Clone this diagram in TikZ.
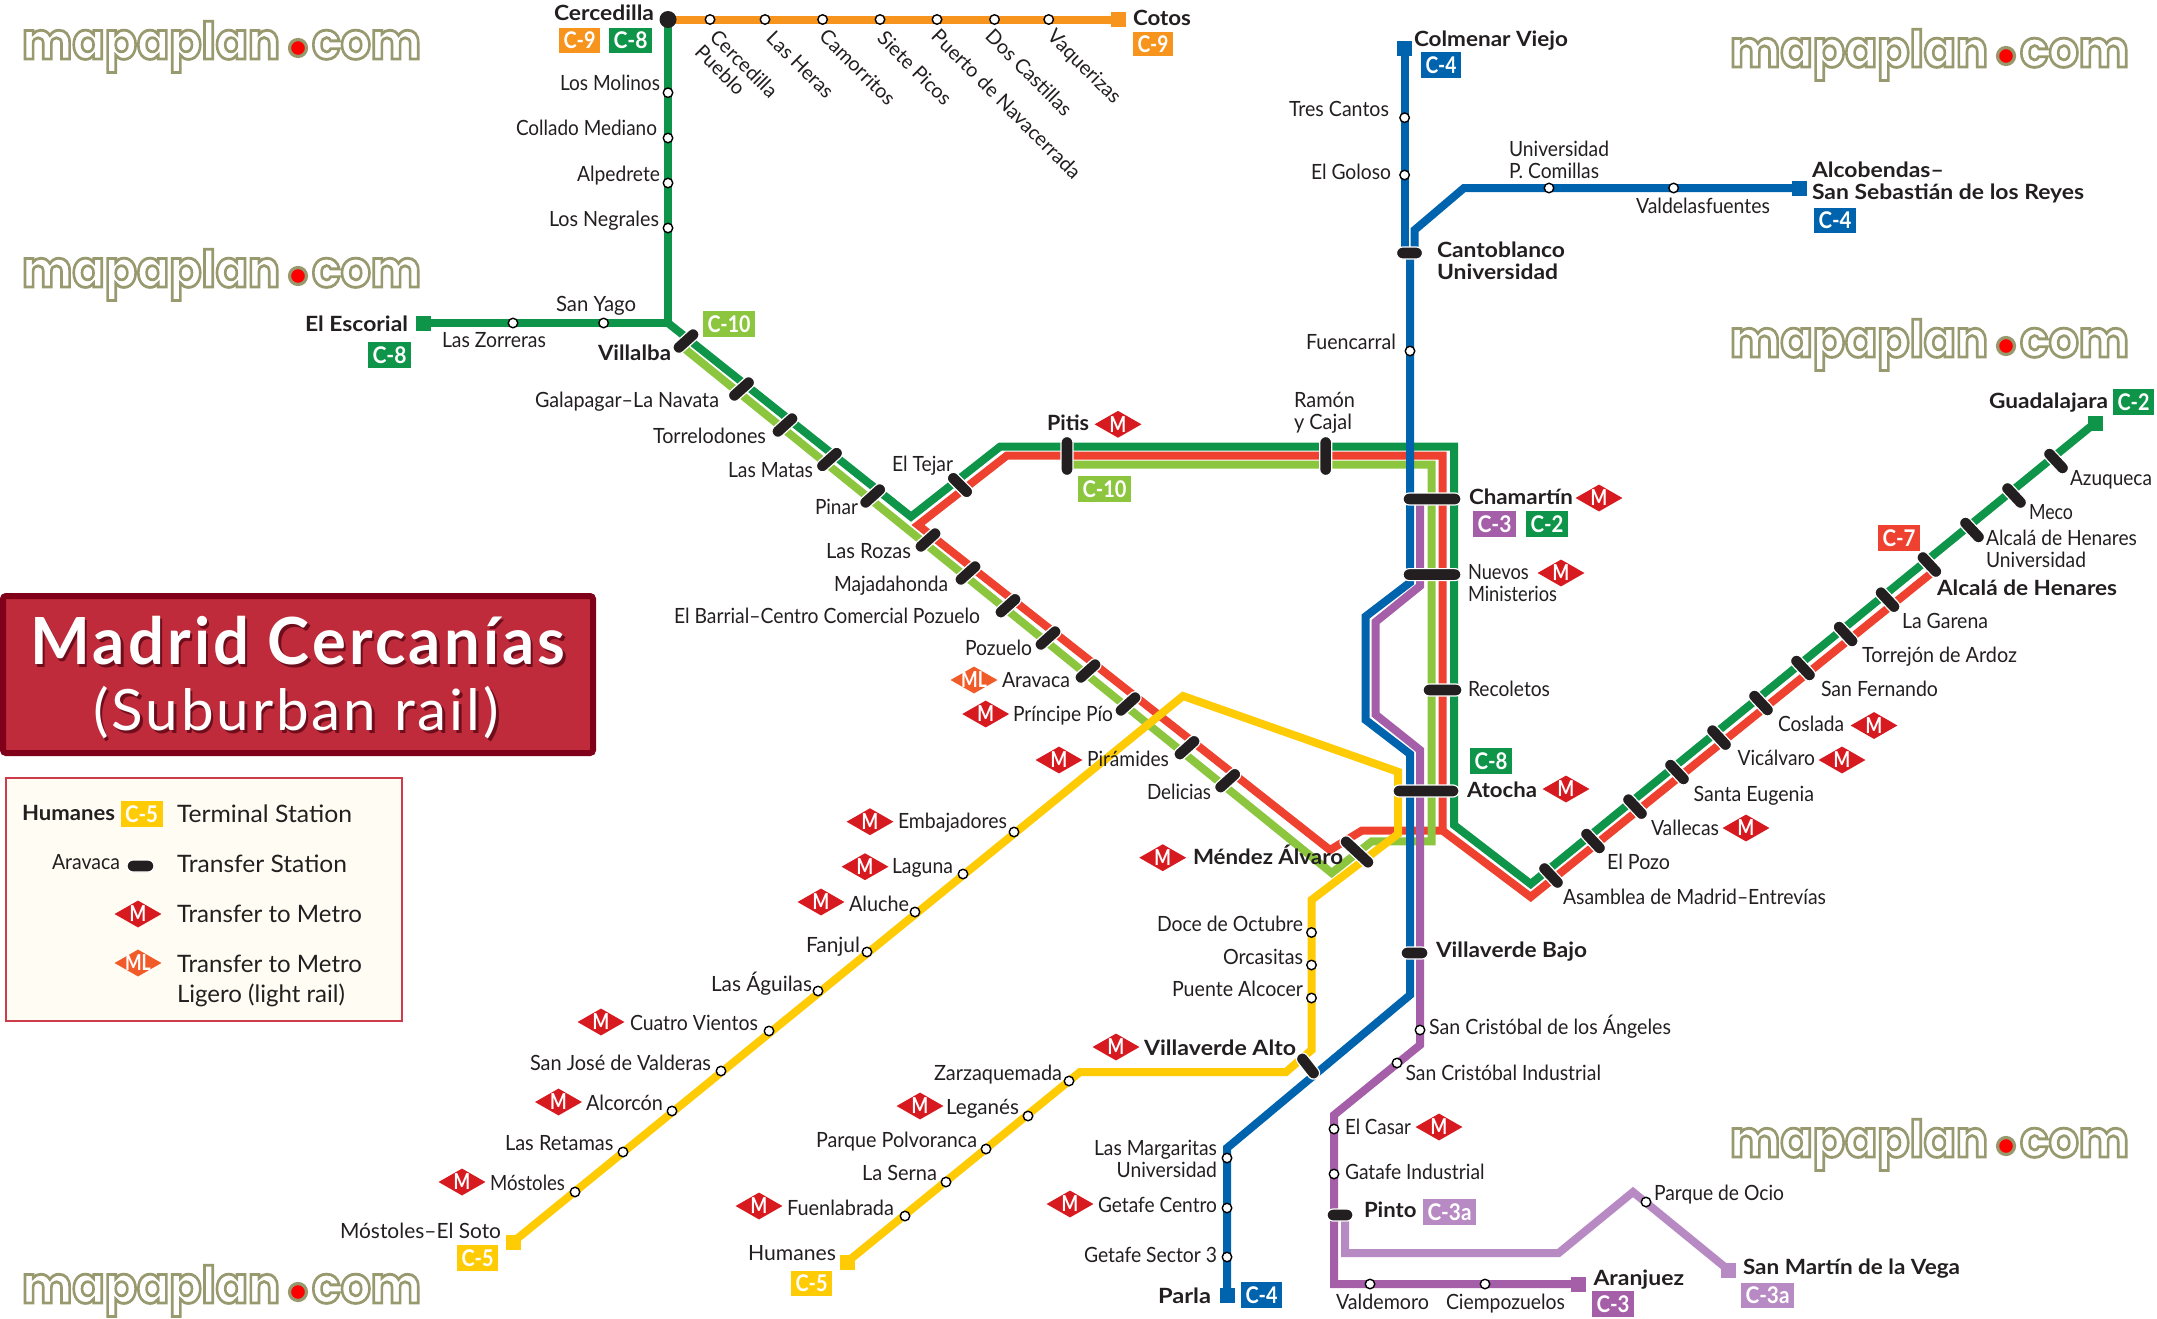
\documentclass[tikz,border=0pt]{standalone}
\usepackage{fontspec}
\usepackage{graphicx}
\usepackage{array}
\setmainfont{Lato}
\newfontfamily\titlefont[LetterSpace=5]{Lato}
\newfontfamily\logofont{Poppins}
\usetikzlibrary{shapes.geometric,shapes.misc}
\definecolor{cgreen}{HTML}{0E9549}
\definecolor{cred}{HTML}{EF4130}
\definecolor{clime}{HTML}{8CC63F}
\definecolor{cyell}{HTML}{FFCB05}
\definecolor{corange}{HTML}{F7941D}
\definecolor{cblue}{HTML}{0063AE}
\definecolor{cpurple}{HTML}{A55EA8}
\definecolor{clilac}{HTML}{B88AC4}
\definecolor{cblack}{HTML}{231F20}
\definecolor{cmetro}{HTML}{D71920}
\definecolor{cml}{HTML}{F15A29}
\definecolor{ctitle}{HTML}{BF2B3A}
\definecolor{ctitled}{HTML}{7F0018}
\definecolor{cshadow}{HTML}{6E0E1C}
\definecolor{clegbg}{HTML}{FFFDF3}
\definecolor{clegbd}{HTML}{CE3B4A}
\definecolor{colive}{HTML}{98996E}
\newsavebox\fitbox
\newcommand\fitw[2]{\sbox\fitbox{#2}\pgfmathsetmacro\fitr{#1/\wd\fitbox}\scalebox{\fitr}[1]{\usebox\fitbox}}
\newcommand\stackl[2]{\begin{tabular}{@{}l@{}}#1\\#2\end{tabular}}
\newcommand\stackr[2]{\begin{tabular}{@{}r@{}}#1\\#2\end{tabular}}
\newcommand\dmtext[1]{\makebox[0pt]{\raisebox{-0.36em}[0pt][0pt]{\scalebox{0.8}[1]{\bfseries #1}}}}
\newcommand\shad[1]{\makebox[0pt][l]{\kern2.5pt\raisebox{-2.5pt}{\color{cshadow}#1}}#1}
\newcommand\logoon{\special{pdf:code 2 Tr 2.8 w 0.596 0.6 0.431 RG}}
\newcommand\logooff{\special{pdf:code 0 Tr 1 w}}
\tikzset{
 lbl/.style={anchor=mid west,inner sep=0pt,outer sep=0pt,text=cblack,font=\fontsize{21}{21.5}\selectfont},
 rotlbl/.style={anchor=mid west,inner sep=0pt,outer sep=0pt,text=cblack,rotate=-45,font=\fontsize{20}{21}\selectfont},
 ln/.style={line width=8pt,line join=miter,miter limit=3},
 stnode/.style={circle,draw=black,fill=white,line width=1.4pt,minimum size=9.5pt,inner sep=0pt},
 termnode/.style={rectangle,minimum size=15pt,inner sep=0pt},
 barnode/.style={rounded rectangle,fill=cblack,draw=white,line width=1.2pt,minimum height=12pt,inner sep=0pt},
 metro/.style={diamond,fill=cmetro,aspect=1.74,minimum width=47pt,minimum height=27pt,inner sep=0pt,text=white,font=\fontsize{22}{22}\selectfont},
 mlight/.style={metro,fill=cml},
 badge/.style={rectangle,inner sep=0pt,text=white,font=\bfseries\fontsize{23}{23}\selectfont},
 logotext/.style={anchor=base west,inner sep=0pt,outer sep=0pt,font=\logofont\bfseries\fontsize{51}{51}\selectfont},
 logodot/.style={circle,fill=red,draw=colive,line width=3.2pt,minimum size=17pt,inner sep=0pt}
}
\newcommand\lab[5]{\pgfmathsetmacro\lw{#3-#2}\node[lbl] (#1) at (#2,#4+5) {\fitw{\lw}{#5}};}
\newcommand\blab[5]{\pgfmathsetmacro\lw{#3-#2}\node[lbl] (#1) at (#2,#4+5) {\fitw{\lw}{\bfseries #5}};}
\newcommand\stn[3]{\node[stnode] (#1) at (#2,#3) {};}
\newcommand\termn[4]{\node[termnode,fill=#2] (#1) at (#3,#4) {};}
\newcommand\trbar[5]{\node[barnode,minimum width=#4pt,rotate=#5] (#1) at (#2,#3) {};}
\newcommand\dmd[3]{\node[metro] (#1) at (#2,#3) {\dmtext{M}};}
\newcommand\dml[3]{\node[mlight] (#1) at (#2,#3) {\dmtext{ML}};}
\newcommand\bdg[7]{\pgfmathsetmacro\bw{#4-#3}\pgfmathsetmacro\bh{#6-#5}\pgfmathsetmacro\tw{#4-#3-9}\pgfmathsetmacro\bx{(#3+#4)/2}\pgfmathsetmacro\by{(#5+#6)/2}\node[badge,fill=#2,minimum width=\bw pt,minimum height=\bh pt] (#1) at (\bx,\by) {\fitw{\tw}{#7}};}
\newcommand\mplogo[3]{\node[logotext] (#1) at (#2,#3) {\color{white}\fitw{258}{\logoon mapaplan\logooff}\makebox[32pt]{.}\fitw{109}{\logoon com\logooff}};
 \node[logodot] (#1dot) at (#2+276,#3-11) {};}
\pgfdeclarelayer{lines}
\pgfsetlayers{lines,main}
\begin{document}
\begin{tikzpicture}[x=1pt,y=-1pt]
\useasboundingbox (0,0) rectangle (2157,1318);
% logos
\mplogo{logoa}{22}{59}
\mplogo{logob}{22}{287}
\mplogo{logoc}{1730}{67}
\mplogo{logod}{1730}{357}
\mplogo{logoe}{1730}{1157}
\mplogo{logof}{22}{1303}
% title
\node[rectangle,fill=ctitle,draw=ctitled,line width=6pt,rounded corners=3pt,minimum width=590pt,minimum height=157pt] (titlebox) at (298,674.5) {};
\node[inner sep=0pt,text=white] (titlea) at (298,642) {\fitw{535}{\titlefont\bfseries\fontsize{65}{65}\selectfont\shad{Madrid Cercanías}}};
\node[inner sep=0pt,text=white] (titleb) at (296,714) {\fitw{406}{\titlefont\fontsize{57}{57}\selectfont\shad{(Suburban rail)}}};
% legend
\node[rectangle,fill=clegbg,draw=clegbd,line width=2pt,minimum width=396pt,minimum height=243pt] (legend) at (203.5,899) {};
\blab{leghum}{22}{115}{813}{Humanes}
\bdg{legc}{cyell}{120.5}{162.5}{801}{827}{C-5}
\lab{legta}{177}{352}{815}{\fontsize{24}{24}\selectfont Terminal Station}
\lab{legar}{52}{120}{862}{Aravaca}
\trbar{legbar}{140.5}{866}{27}{0}
\lab{legtb}{177}{347}{865}{\fontsize{24}{24}\selectfont Transfer Station}
\dmd{legm}{138}{914}
\lab{legtc}{177}{362}{915}{\fontsize{24}{24}\selectfont Transfer to Metro}
\dml{legml}{138}{963}
\pgfmathsetmacro\lw{185}
\node[lbl] (legtd) at (177,985) {\fitw{\lw}{\fontsize{24}{30}\selectfont\stackl{Transfer to Metro}{Ligero (light rail)}}};
% terminals
\termn{escorial}{cgreen}{423}{323}
\node[circle,fill=cblack,minimum size=17pt,inner sep=0pt] (cerc) at (668,19.5) {};
\termn{cotos}{corange}{1118.5}{19.5}
\termn{colmenar}{cblue}{1404.6}{48}
\termn{alcob}{cblue}{1799}{188}
\termn{parla}{cblue}{1227}{1295}
\termn{aranjuez}{cpurple}{1578}{1284}
\termn{sanmartin}{clilac}{1728.5}{1270}
\termn{guadal}{cgreen}{2095}{423}
\termn{mostsoto}{cyell}{513}{1242}
\termn{humanes}{cyell}{847}{1262}
% plain stations
\stn{sa}{668}{92.7}\stn{sb}{668}{138}\stn{sc}{668}{183}\stn{sd}{668}{228}
\stn{se}{603.6}{323}\stn{sf}{513}{323}
\stn{oa}{710}{19.5}\stn{ob}{765}{19.5}\stn{oc}{822.6}{19.5}\stn{od}{880}{19.5}\stn{oe}{937}{19.5}\stn{of}{994.5}{19.5}\stn{og}{1048.7}{19.5}
\stn{ba}{1404.6}{117.7}\stn{bb}{1404.6}{175}\stn{bc}{1410}{351}\stn{bd}{1549}{188}\stn{be}{1673.6}{188}
\stn{bf}{1227}{1158}\stn{bg}{1227}{1208}\stn{bh}{1227}{1257}
\stn{ya}{1014}{832}\stn{yb}{963}{874}\stn{yc}{915}{912}\stn{yd}{867}{952}\stn{ye}{818}{991}\stn{yf}{769}{1031}\stn{yg}{721}{1071}\stn{yh}{672}{1111}\stn{yi}{623}{1152}\stn{yj}{575}{1192}
\stn{yk}{1069}{1081}\stn{yl}{1028}{1116}\stn{ym}{986}{1149}\stn{yn}{946}{1182}\stn{yo}{905}{1216}
\stn{yp}{1311.5}{932.5}\stn{yq}{1311.5}{965}\stn{yr}{1311.5}{998}
\stn{pa}{1420}{1030}\stn{pb}{1397}{1063}\stn{pc}{1334}{1129}\stn{pd}{1334}{1174}\stn{pe}{1370}{1284}\stn{pf}{1485}{1284}\stn{pg}{1646}{1202}
% transfer bars
\trbar{tvilla}{686}{341}{31}{42}
\trbar{tgala}{741.5}{389}{31}{42}
\trbar{ttorr}{785}{425}{31}{42}
\trbar{tmata}{829.5}{459.5}{31}{42}
\trbar{tpina}{872.7}{496}{31}{42}
\trbar{troz}{928}{540}{31}{42}
\trbar{tmaj}{968}{573}{31}{42}
\trbar{tbar}{1008}{605.7}{31}{42}
\trbar{tpoz}{1048}{638}{31}{42}
\trbar{tara}{1088}{671}{31}{42}
\trbar{tpri}{1128}{704}{31}{42}
\trbar{tpir}{1187}{747.7}{31}{42}
\trbar{tdel}{1227.7}{780.7}{31}{42}
\trbar{ttej}{960}{485}{31}{-45}
\trbar{tpit}{1067}{456}{39}{90}
\trbar{tram}{1325.7}{456}{39}{90}
\trbar{tcha}{1432}{499}{58}{0}
\trbar{tnue}{1432}{574.6}{58}{0}
\trbar{trec}{1442.5}{690}{39}{0}
\trbar{tato}{1426}{791}{66}{0}
\trbar{tvbj}{1414.5}{953}{27}{0}
\trbar{tcan}{1409.5}{253}{26}{0}
\trbar{tpin}{1340}{1215}{26}{0}
\trbar{tmen}{1357}{852}{42}{-43}
\trbar{tval}{1308}{1066}{30}{-52}
\trbar{ra}{1551}{875.5}{31}{-47}
\trbar{rb}{1593}{841}{31}{-47}
\trbar{rc}{1635}{806.6}{31}{-47}
\trbar{rd}{1677}{772}{31}{-47}
\trbar{re}{1719}{737.6}{31}{-47}
\trbar{rf}{1761}{703}{31}{-47}
\trbar{rg}{1803}{668}{31}{-47}
\trbar{rh}{1845.6}{634}{31}{-47}
\trbar{ri}{1887.5}{599.7}{31}{-47}
\trbar{rj}{1929.4}{564.5}{31}{-47}
\trbar{rk}{1972}{530}{31}{-47}
\trbar{rl}{2014}{495.5}{31}{-47}
\trbar{rm}{2056}{461}{31}{-47}
% bend points
\coordinate (gv) at (668,323);
\coordinate (g1) at (911,516.7);
\coordinate (g2) at (1000,446.7);
\coordinate (g3) at (1454,446.7);
\coordinate (g4) at (1454,825);
\coordinate (g5) at (1530.7,884);
\coordinate (r0) at (1931.5,573);
\coordinate (r1) at (1530.7,897);
\coordinate (r2) at (1442.7,830.7);
\coordinate (r3) at (1442.7,455.7);
\coordinate (r4) at (1006.7,455.7);
\coordinate (r5) at (918,525);
\coordinate (r6) at (1330,850);
\coordinate (r7) at (1361.7,830.7);
\coordinate (l0) at (685,349);
\coordinate (l1) at (1331.7,873);
\coordinate (l2) at (1371.7,841.4);
\coordinate (l3) at (1431.7,841.4);
\coordinate (l4) at (1431.7,464.7);
\coordinate (l5) at (1067,464.7);
\coordinate (y1) at (1183,696);
\coordinate (y2) at (1398,771.8);
\coordinate (y3) at (1398,834);
\coordinate (y4) at (1311.5,900);
\coordinate (y5) at (1311.5,1050);
\coordinate (y6) at (1286,1072);
\coordinate (y7) at (1080,1072);
\coordinate (b1) at (1404.6,250);
\coordinate (b2) at (1414.6,250);
\coordinate (b3) at (1414.6,230);
\coordinate (b4) at (1464,188);
\coordinate (b5) at (1410,253);
\coordinate (b6) at (1410,582.5);
\coordinate (b7) at (1365.7,616.4);
\coordinate (b8) at (1365.7,720);
\coordinate (b9) at (1410,754);
\coordinate (b10) at (1410,995);
\coordinate (b11) at (1227,1148);
\coordinate (p0) at (1420,499);
\coordinate (p1) at (1420,586);
\coordinate (p2) at (1375.7,621.8);
\coordinate (p3) at (1375.7,714.6);
\coordinate (p4) at (1420,750);
\coordinate (p5) at (1420,1045);
\coordinate (p6) at (1334,1115);
\coordinate (p7) at (1334,1284);
\coordinate (q0) at (1345,1215);
\coordinate (q1) at (1345,1253);
\coordinate (q2) at (1558.6,1253);
\coordinate (q3) at (1633,1192);
\begin{pgfonlayer}{lines}
\draw[ln,cred] (r0) -- (r1) -- (r2) -- (r3) -- (r4) -- (r5) -- (r6) -- (r7) -- (r2);
\draw[ln,clime] (l0) -- (l1) -- (l2) -- (l3) -- (l4) -- (l5);
\draw[ln,cgreen] (cerc.center) -- (gv) -- (escorial.center);
\draw[ln,cgreen] (gv) -- (g1) -- (g2) -- (g3) -- (g4) -- (g5) -- (guadal.center);
\draw[ln,corange] (cerc.center) -- (cotos.center);
\draw[ln,cyell] (mostsoto.center) -- (y1) -- (y2) -- (y3) -- (y4) -- (y5) -- (y6) -- (y7) -- (humanes.center);
\draw[ln,cblue] (colmenar.center) -- (b1);
\draw[ln,cblue] (b2) -- (b3) -- (b4) -- (alcob.center);
\draw[ln,cblue] (b5) -- (b6) -- (b7) -- (b8) -- (b9) -- (b10) -- (b11) -- (parla.center);
\draw[ln,cpurple] (p0) -- (p1) -- (p2) -- (p3) -- (p4) -- (p5) -- (p6) -- (p7) -- (aranjuez.center);
\draw[ln,clilac] (q0) -- (q1) -- (q2) -- (q3) -- (sanmartin.center);
\end{pgfonlayer}
% badges
\bdg{bc9}{corange}{559}{600}{28}{53}{C-9}
\bdg{bc8a}{cgreen}{609}{652}{28}{53}{C-8}
\bdg{bc9b}{corange}{1133}{1173}{32}{56}{C-9}
\bdg{bc8b}{cgreen}{368}{411}{342}{368}{C-8}
\bdg{bc10a}{clime}{703}{755}{311}{337}{C-10}
\bdg{bc10b}{clime}{1078}{1131}{476}{502}{C-10}
\bdg{bc4a}{cblue}{1421}{1461}{52}{78}{C-4}
\bdg{bc4b}{cblue}{1814}{1856}{208}{233}{C-4}
\bdg{bc4c}{cblue}{1241}{1282}{1282}{1308}{C-4}
\bdg{bc3a}{cpurple}{1473}{1516}{511}{537}{C-3}
\bdg{bc2a}{cgreen}{1526}{1568}{511}{537}{C-2}
\bdg{bc8c}{cgreen}{1470}{1512}{748}{774}{C-8}
\bdg{bc2b}{cgreen}{2113}{2154}{389}{415}{C-2}
\bdg{bc7}{cred}{1878}{1920}{525}{551}{C-7}
\bdg{bc5a}{cyell}{457}{498}{1245}{1271}{C-5}
\bdg{bc5b}{cyell}{791}{832}{1271}{1296}{C-5}
\bdg{bc3b}{cpurple}{1592}{1634}{1291}{1317}{C-3}
\bdg{bc3c}{clilac}{1423}{1476}{1199}{1225}{C-3a}
\bdg{bc3d}{clilac}{1741}{1794}{1283}{1308}{C-3a}
% metro diamonds
\dmd{mpit}{1118}{424.3}
\dmd{mcha}{1599}{498}
\dmd{mnue}{1561}{573}
\dmd{mato}{1566}{789}
\dmd{mcos}{1874}{725.5}
\dmd{mvic}{1842}{760}
\dmd{mval}{1746}{828}
\dml{mlara}{974}{680}
\dmd{mpri}{985.7}{714}
\dmd{mpir}{1059}{760}
\dmd{memb}{870}{821.7}
\dmd{mlag}{865}{866.7}
\dmd{mmen}{1162.7}{857.7}
\dmd{malu}{821}{902}
\dmd{mcua}{601}{1022}
\dmd{malc}{558.5}{1102}
\dmd{mmos}{462}{1182}
\dmd{mvlt}{1116}{1047}
\dmd{mleg}{920}{1106}
\dmd{mfue}{759}{1206}
\dmd{mget}{1070}{1204}
\dmd{mcas}{1439}{1127}
% labels
\blab{tcerc}{554}{654}{13}{Cercedilla}
\blab{tcot}{1133}{1191}{18}{Cotos}
\lab{lmol}{560}{660}{83}{Los Molinos}
\lab{lcol}{516}{657}{128}{Collado Mediano}
\lab{lalp}{577}{660}{174}{Alpedrete}
\lab{lneg}{549}{659}{219}{Los Negrales}
\lab{lyag}{556}{636}{304}{San Yago}
\lab{lzor}{442}{546}{340}{Las Zorreras}
\blab{lesc}{305}{408}{324}{El Escorial}
\blab{lvil}{598}{671}{353}{Villalba}
\node[rotlbl,anchor=north west] (lcp) at (719,28) {\stackl{Cercedilla}{Pueblo}};
\node[rotlbl] (lher) at (767,38) {Las Heras};
\node[rotlbl] (lcam) at (820,36) {Camorritos};
\node[rotlbl] (lsie) at (878,38) {Siete Picos};
\node[rotlbl] (lpue) at (932,36) {Puerto de Navacerrada};
\node[rotlbl] (ldos) at (986,36) {Dos Castillas};
\node[rotlbl] (lvaq) at (1048,36) {Vaquerizas};
\lab{lgal}{535}{719}{400}{Galapagar–La Navata}
\lab{ltor}{653}{766}{436}{Torrelodones}
\lab{lmat}{728}{813}{470}{Las Matas}
\lab{lpin}{815}{858}{507}{Pinar}
\lab{ltej}{892}{953}{464}{El Tejar}
\lab{lroz}{826}{911}{551}{Las Rozas}
\lab{lmaj}{834}{948}{584}{Majadahonda}
\lab{lbar}{674}{980}{616}{El Barrial–Centro Comercial Pozuelo}
\lab{lpoz}{965}{1032}{648}{Pozuelo}
\lab{lara}{1002}{1070}{680}{Aravaca}
\lab{lpri}{1013}{1113}{714}{Príncipe Pío}
\lab{lpir}{1087}{1169}{759}{Pirámides}
\lab{ldel}{1147}{1211}{792}{Delicias}
\lab{lemb}{898}{1007}{821}{Embajadores}
\lab{llag}{892}{953}{866}{Laguna}
\blab{lmen}{1193}{1343}{857}{Méndez Álvaro}
\blab{lpit}{1047}{1089}{423}{Pitis}
\lab{lram}{1294}{1355}{411.5}{\stackl{Ramón}{y Cajal}}
\lab{lalu}{849}{909}{904}{Aluche}
\lab{lfan}{806}{860}{945}{Fanjul}
\lab{lagu}{711}{812}{984}{Las Águilas}
\lab{lcua}{630}{758}{1023}{Cuatro Vientos}
\lab{lsjv}{530}{711}{1063}{San José de Valderas}
\lab{lalc}{586}{663}{1103}{Alcorcón}
\lab{lret}{505}{613.5}{1143}{Las Retamas}
\lab{lmos}{490}{565}{1183}{Móstoles}
\lab{lsot}{340}{501}{1231}{Móstoles–El Soto}
\lab{lzar}{934}{1062}{1073}{Zarzaquemada}
\lab{lleg}{946}{1019}{1107}{Leganés}
\lab{lpar}{816}{977}{1140}{Parque Polvoranca}
\lab{lser}{862}{937}{1173}{La Serna}
\lab{lfue}{787}{894}{1208}{Fuenlabrada}
\lab{lhum}{748}{836}{1253}{Humanes}
\blab{lvlt}{1144}{1296}{1048}{Villaverde Alto}
\lab{ldoc}{1157}{1303}{924}{Doce de Octubre}
\lab{lorc}{1223}{1303}{957}{Orcasitas}
\lab{lpal}{1172}{1303}{989}{Puente Alcocer}
\lab{lmar}{1094}{1217}{1160}{\stackr{Las Margaritas}{Universidad}}
\lab{lgec}{1098}{1217}{1205}{Getafe Centro}
\lab{lges}{1084}{1217}{1255}{Getafe Sector 3}
\blab{lpar2}{1158}{1211}{1296}{Parla}
\blab{lcmv}{1414}{1568}{38.5}{Colmenar Viejo}
\lab{ltre}{1289}{1389}{109}{Tres Cantos}
\lab{lgol}{1311}{1391}{172}{El Goloso}
\lab{lfcl}{1306}{1396}{342}{Fuencarral}
\lab{luni}{1509}{1609}{161}{\stackl{Universidad}{P. Comillas}}
\lab{lvdl}{1636}{1770}{206}{Valdelasfuentes}
\blab{lalb}{1812}{2084}{182}{\stackl{Alcobendas–}{San Sebastián de los Reyes}}
\blab{lcan}{1437}{1565}{262}{\stackl{Cantoblanco}{Universidad}}
\blab{lcha}{1469}{1573}{497}{Chamartín}
\lab{lnue}{1468}{1557}{584}{\stackl{Nuevos}{Ministerios}}
\lab{lrec}{1468}{1550}{689}{Recoletos}
\blab{lato}{1467}{1537}{790}{Atocha}
\blab{lvbj}{1436}{1587}{950}{Villaverde Bajo}
\lab{lsca}{1429}{1671}{1027}{San Cristóbal de los Ángeles}
\lab{lsci}{1405.5}{1601}{1073}{San Cristóbal Industrial}
\lab{lcas}{1345}{1411}{1127}{El Casar}
\lab{lgat}{1345}{1484.5}{1172}{Gatafe Industrial}
\blab{lpto}{1364}{1416.5}{1210}{Pinto}
\lab{lvdm}{1336}{1429}{1302}{Valdemoro}
\lab{lcie}{1446}{1565}{1302}{Ciempozuelos}
\blab{lajz}{1593.5}{1684}{1278}{Aranjuez}
\lab{loci}{1654}{1784}{1193}{Parque de Ocio}
\blab{lsmv}{1743}{1960}{1267}{San Martín de la Vega}
\blab{lgua}{1989}{2108}{401}{Guadalajara}
\lab{lazu}{2070}{2152}{478}{Azuqueca}
\lab{lmec}{2029}{2073}{512}{Meco}
\lab{laun}{1986}{2137}{550}{\stackl{Alcalá de Henares}{Universidad}}
\blab{laca}{1937}{2117}{588}{Alcalá de Henares}
\lab{lgar}{1902}{1988}{621}{La Garena}
\lab{ltoj}{1862}{2017}{655}{Torrejón de Ardoz}
\lab{lsfe}{1821}{1938}{689}{San Fernando}
\lab{lcos}{1778}{1844}{724}{Coslada}
\lab{lvic}{1737.5}{1815}{758}{Vicálvaro}
\lab{lseu}{1693.5}{1814}{794}{Santa Eugenia}
\lab{lvll}{1651}{1719}{827.6}{Vallecas}
\lab{lpoz2}{1607}{1670}{862}{El Pozo}
\lab{lasa}{1563}{1826}{896.6}{Asamblea de Madrid–Entrevías}
\end{tikzpicture}
\end{document}
